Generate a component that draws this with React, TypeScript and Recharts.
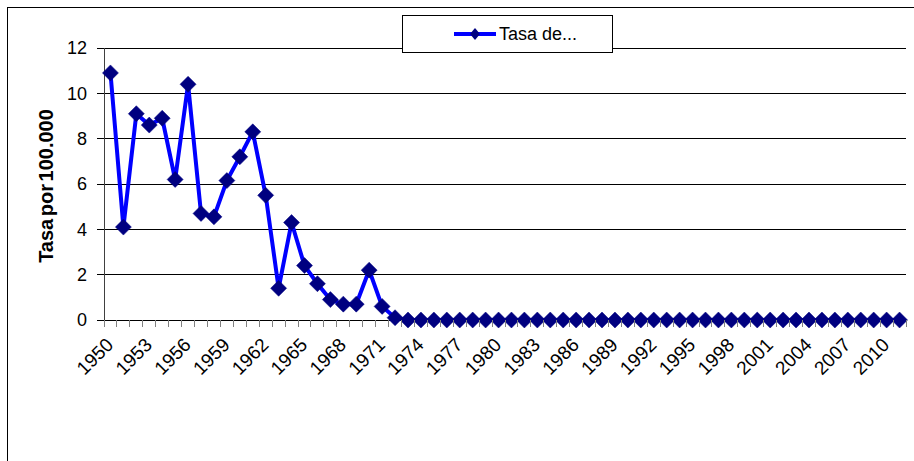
import React from 'react';
import { LineChart, Line, XAxis, YAxis, CartesianGrid, Legend } from 'recharts';

const years = [
  '1950', '1951', '1952', '1953', '1954', '1955', '1956', '1957', '1958', '1959',
  '1960', '1961', '1962', '1963', '1964', '1965', '1966', '1967', '1968', '1969',
  '1970', '1971', '1972', '1973', '1974', '1975', '1976', '1977', '1978', '1979',
  '1980', '1981', '1982', '1983', '1984', '1985', '1986', '1987', '1988', '1989',
  '1990', '1991', '1992', '1993', '1994', '1995', '1996', '1997', '1998', '1999',
  '2000', '2001', '2002', '2003', '2004', '2005', '2006', '2007', '2008', '2009',
  '2010', '2011',
];

const rates = [
  10.9, 4.1, 9.1, 8.6, 8.9, 6.2, 10.4, 4.7, 4.55, 6.15,
  7.2, 8.3, 5.5, 1.4, 4.3, 2.4, 1.6, 0.9, 0.7, 0.7,
  2.2, 0.6, 0.1, 0, 0, 0, 0, 0, 0, 0,
  0, 0, 0, 0, 0, 0, 0, 0, 0, 0,
  0, 0, 0, 0, 0, 0, 0, 0, 0, 0,
  0, 0, 0, 0, 0, 0, 0, 0, 0, 0,
  0, 0,
];

const labeledYears = [
  '1950', '1953', '1956', '1959', '1962', '1965', '1968', '1971', '1974', '1977',
  '1980', '1983', '1986', '1989', '1992', '1995', '1998', '2001', '2004', '2007', '2010',
];

const yTicks = [0, 2, 4, 6, 8, 10, 12];
const seriesName = 'Tasa de...';
const yTitle = 'Tasa por 100.000';

const data = years.map((year, i) => ({ year, rate: rates[i] }));

const FONT = '"Liberation Sans", Arial, sans-serif';
const LINE_COLOR = '#0000FF';
const MARKER_COLOR = '#000080';

const Diamond = (props: any) => {
  const { cx, cy, index } = props;
  if (cx == null || cy == null) return <g key={`d-${index}`} />;
  const r = 8;
  return (
    <path
      key={`d-${index}`}
      d={`M${cx},${cy - r} L${cx + r},${cy} L${cx},${cy + r} L${cx - r},${cy} Z`}
      fill={MARKER_COLOR}
      stroke={MARKER_COLOR}
      strokeWidth={0.5}
    />
  );
};

const XTick = (props: any) => {
  const { x, y, payload, index } = props;
  const half = typeof payload.offset === 'number' ? payload.offset : 0;
  const showLabel = labeledYears.includes(String(payload.value));
  const isLast = index === years.length - 1;
  return (
    <g>
      <line x1={x - half} y1={y - 7} x2={x - half} y2={y} stroke="#808080" strokeWidth={1} shapeRendering="crispEdges" />
      {isLast && <line x1={x + half} y1={y - 7} x2={x + half} y2={y} stroke="#808080" strokeWidth={1} shapeRendering="crispEdges" />}
      {showLabel && (
        <g transform={`translate(${x + 4},${y + 19})`}>
          <text
            x={0}
            y={0}
            textAnchor="end"
            transform="rotate(-45)"
            fontSize={19}
            fontFamily={FONT}
            fill="#000"
          >
            {payload.value}
          </text>
        </g>
      )}
    </g>
  );
};

const YTitle = (props: any) => {
  const vb = props.viewBox || {};
  const cy = (vb.y || 0) + (vb.height || 0) / 2 + 2;
  const cx = 46;
  return (
    <text
      x={cx}
      y={cy}
      transform={`rotate(-90, ${cx}, ${cy})`}
      textAnchor="middle"
      dominantBaseline="central"
      fontSize={20}
      fontWeight="bold"
      fontFamily={FONT}
      wordSpacing={-3}
      fill="#000"
    >
      {yTitle}
    </text>
  );
};

const LegendBox = () => (
  <div
    style={{
      width: 211,
      height: 38,
      border: '1px solid #000',
      background: '#fff',
      boxSizing: 'border-box',
      position: 'relative',
      fontFamily: FONT,
    }}
  >
    <svg width={50} height={36} style={{ position: 'absolute', left: 49, top: 0 }}>
      <line x1={2} y1={18} x2={44} y2={18} stroke={LINE_COLOR} strokeWidth={4} />
      <path d="M23,12 L28,18 L23,24 L18,18 Z" fill={MARKER_COLOR} />
    </svg>
    <span
      style={{
        position: 'absolute',
        left: 96,
        top: 7,
        fontSize: 18,
        lineHeight: '22px',
        color: '#000',
        whiteSpace: 'nowrap',
      }}
    >
      {seriesName}
    </span>
  </div>
);

export default function App() {
  return (
    <div
      style={{
        position: 'absolute',
        left: 0,
        top: 0,
        width: 914,
        height: 461,
        overflow: 'hidden',
        background: '#fff',
      }}
    >
      <style>{`.recharts-cartesian-grid line, .recharts-cartesian-axis-line, .recharts-cartesian-axis-tick-line { shape-rendering: crispEdges; }`}</style>
      <div
        style={{
          position: 'absolute',
          left: 7,
          top: 7,
          width: 1000,
          height: 1000,
          border: '1px solid #000',
        }}
      />
      <div style={{ position: 'absolute', left: 0, top: 0 }}>
        <LineChart
          width={914}
          height={461}
          data={data}
          margin={{ top: 48, right: 8, bottom: 0, left: 0 }}
        >
          <CartesianGrid vertical={false} stroke="#000" strokeWidth={1} />
          <XAxis
            dataKey="year"
            scale="band"
            interval={0}
            height={141}
            axisLine={{ stroke: '#000', strokeWidth: 1 }}
            tickLine={false}
            tickSize={7}
            tickMargin={0}
            tick={<XTick />}
          />
          <YAxis
            domain={[0, 12]}
            ticks={yTicks}
            width={104}
            axisLine={{ stroke: '#404040', strokeWidth: 1 }}
            tickLine={{ stroke: '#000', strokeWidth: 1 }}
            tickSize={7}
            tickMargin={10}
            tick={{ fontSize: 18, fill: '#000', fontFamily: FONT }}
            label={<YTitle />}
          />
          <Legend
            layout="vertical"
            align="center"
            verticalAlign="middle"
            content={<LegendBox />}
            wrapperStyle={{ position: 'absolute', left: 402, top: 15, width: 211, height: 38 }}
          />
          <Line
            type="linear"
            dataKey="rate"
            name={seriesName}
            stroke={LINE_COLOR}
            strokeWidth={4}
            dot={<Diamond />}
            activeDot={false}
            isAnimationActive={false}
          />
        </LineChart>
      </div>
    </div>
  );
}
